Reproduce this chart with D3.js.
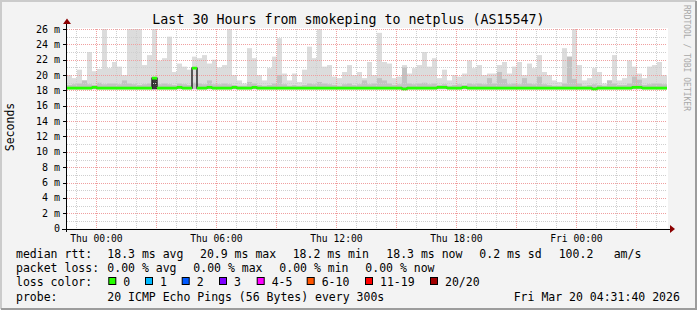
<!DOCTYPE html>
<html><head><meta charset="utf-8">
<script src="https://cdn.jsdelivr.net/npm/d3@7"></script>
<style>
body{margin:0;background:#f3f3f3}
svg{display:block}
text{font-family:"DejaVu Sans Mono",monospace}
</style>
</head><body>
<svg id="c" width="697" height="310"></svg>
<script>
// ---------- data ----------
const title = "Last 30 Hours from smokeping to netplus (AS15547)";
const yTickValues = [0,2,4,6,8,10,12,14,16,18,20,22,24,26];
const yTickLabels = ["0","2 m","4 m","6 m","8 m","10 m","12 m","14 m","16 m","18 m","20 m","22 m","24 m","26 m"];
const endTimeUTC = [2026,2,20,4,31,40];   // Fri Mar 20 04:31:40 2026
const spanHours = 30;
// smoke upper extent (ms), one value per 15-minute bin (120 bins)
const smokeMax = [
 20.0,19.6,20.7,19.3,23.0,20.5,20.8,26.0,20.9,21.7,21.1,20.0,26.0,26.0,26.0,21.3,22.6,26.0,21.9,22.2,25.0,20.4,21.5,21.1,20.7,22.4,22.2,22.6,21.5,22.0,
 21.0,21.3,26.0,20.0,19.3,18.9,23.5,22.2,20.0,19.3,20.9,22.4,24.8,20.2,19.3,20.2,19.1,20.7,23.7,22.2,26.0,21.1,21.3,19.8,19.6,20.4,21.3,20.0,20.4,19.6,
 21.7,20.0,25.5,21.7,21.5,19.6,19.8,21.3,20.2,20.9,21.3,23.0,21.1,22.2,19.6,20.7,19.3,20.0,19.8,20.2,21.9,20.9,21.3,20.0,20.2,20.2,21.3,21.7,20.2,21.1,
 21.7,20.0,21.5,20.9,22.6,20.4,20.0,19.3,19.1,23.5,22.4,26.0,21.3,19.3,19.6,20.9,20.4,18.9,19.3,22.6,19.3,19.6,21.9,21.1,20.2,19.6,21.1,21.3,21.7,20.0
];
// darker inner smoke band upper extent (ms)
const smokeMid = [
 18.7,18.8,18.9,19.3,18.8,18.7,19.0,18.8,18.9,18.9,18.8,19.3,18.9,18.8,18.7,18.8,18.9,19.5,18.8,18.9,18.8,18.7,18.9,18.8,18.7,19.0,18.9,18.8,19.3,18.8,
 18.8,18.9,18.8,18.7,18.6,18.6,19.1,18.9,18.7,18.6,18.7,18.9,20.0,18.8,18.6,18.7,18.6,18.7,18.9,18.8,19.1,18.9,18.8,18.7,18.6,18.8,18.9,18.7,18.8,19.3,
 18.8,18.9,19.6,19.3,18.9,18.7,18.8,21.0,18.9,18.8,18.9,19.0,18.8,18.9,18.7,18.8,18.6,18.7,18.8,18.7,18.9,18.8,18.9,18.8,19.6,18.9,20.4,19.5,18.8,18.9,
 18.8,19.6,18.9,18.8,19.8,18.8,18.7,18.6,18.6,18.9,22.4,19.5,18.9,18.6,18.7,18.8,18.7,18.6,19.3,18.9,18.7,18.7,18.9,19.8,19.4,18.7,18.8,18.9,18.9,18.8
];
// densest smoke core (ms), 0 where absent
const smokeCore = [
 0,0,0,0,0,0,0,0,0,0,0,0,0,0,0,0,0,19.5,0,0,0,0,0,0,0,0,0,0,0,0,
 0,0,0,0,0,0,0,0,0,0,0,0,0,0,0,0,0,0,0,0,0,0,0,0,0,0,0,0,0,0,
 0,0,0,0,0,0,0,0,0,0,0,0,0,0,0,0,0,0,0,0,0,0,0,0,0,0,0,0,0,0,
 0,0,0,0,0,0,0,0,0,0,0,0,0,0,0,0,0,0,0,0,0,0,0,0,0,0,0,0,0,0
];
// median rtt (ms)
const medianRtt = [
 18.3,18.3,18.3,18.3,18.3,18.4,18.3,18.3,18.3,18.3,18.3,18.3,18.3,18.3,18.3,18.3,18.3,19.6,18.3,18.3,18.3,18.3,18.4,18.3,18.3,20.9,18.3,18.3,18.4,18.3,
 18.3,18.3,18.3,18.4,18.3,18.3,18.3,18.4,18.3,18.3,18.3,18.3,18.3,18.3,18.3,18.3,18.3,18.3,18.3,18.3,18.3,18.3,18.3,18.3,18.3,18.3,18.3,18.3,18.3,18.3,
 18.3,18.3,18.3,18.3,18.3,18.3,18.3,18.2,18.3,18.3,18.3,18.3,18.3,18.3,18.4,18.4,18.3,18.3,18.3,18.4,18.3,18.3,18.3,18.3,18.3,18.3,18.3,18.3,18.3,18.3,
 18.3,18.3,18.3,18.3,18.3,18.3,18.3,18.3,18.3,18.3,18.3,18.3,18.3,18.3,18.3,18.2,18.3,18.3,18.3,18.3,18.3,18.3,18.3,18.4,18.4,18.3,18.3,18.3,18.3,18.3
];
const lossLabels = ["0","1","2","3","4-5","6-10","11-19","20/20"];
const lossColors = ["#26ff00","#00b8ff","#0059ff","#7e00ff","#ff00ff","#ff5500","#ff0000","#a10000"];
const rttRow = [["median rtt:",16],["18.3 ms avg",107.3],["20.9 ms max",200],["18.2 ms min",292.7],["18.3 ms now",386.3],["0.2 ms sd",479.3],["100.2",558.7],["am/s",613.7]];
const lossRow = [["packet loss:",16],["0.00 % avg",107.3],["0.00 % max",193.3],["0.00 % min",279.3],["0.00 % now",365.3]];
const probeText = "20 ICMP Echo Pings (56 Bytes) every 300s";
const stampText = "Fri Mar 20 04:31:40 2026";

// ---------- chart ----------
const svg = d3.select("#c");
const W = 697, H = 310;
const X0 = 67, X1 = 667, Ytop = 29, Ybot = 228.6;

const end = new Date(Date.UTC(...endTimeUTC));
const start = new Date(end.getTime() - spanHours*3600e3);
const binMs = spanHours*3600e3 / smokeMax.length;
const binStart = i => new Date(start.getTime() + i*binMs);

const x = d3.scaleUtc().domain([start, end]).range([X0, X1]);
const y = d3.scaleLinear().domain([0, 26]).range([Ybot, Ytop]);

// background + frame
svg.append("rect").attr("width",W).attr("height",H).attr("fill","#f3f3f3");
svg.append("path").attr("d",`M1,${H-1}V1H${W-1}`).attr("stroke","#cbcbcb").attr("stroke-width",2).attr("fill","none");
svg.append("path").attr("d",`M1,${H-1}H${W-1}V1`).attr("stroke","#9c9c9c").attr("stroke-width",2).attr("fill","none");

// canvas
svg.append("rect").attr("x",X0).attr("y",Ytop-1).attr("width",X1-X0+1).attr("height",Ybot-Ytop+1).attr("fill","#ffffff");

const bins = d3.range(smokeMax.length);
const base = 18.15;
function smokeLayer(vals, color) {
  svg.append("g").selectAll("rect").data(bins.filter(i => vals[i] > 0)).join("rect")
    .attr("x", i => x(binStart(i)))
    .attr("width", i => x(binStart(i+1)) - x(binStart(i)))
    .attr("y", i => y(Math.min(26, vals[i])))
    .attr("height", i => y(base) - y(Math.min(26, vals[i])))
    .attr("fill", color);
}
smokeLayer(smokeMax, "#dcdcdc");
smokeLayer(smokeMid, "#c2c2c2");
smokeLayer(smokeCore, "#3a3a3a");

// grid
const grid = svg.append("g").attr("shape-rendering","crispEdges");
const minorH = d3.range(1, 27, 1).filter(v => v % 2 === 1);
grid.selectAll(".hm").data(minorH).join("line")
  .attr("x1",X0).attr("x2",X1).attr("y1",d=>Math.round(y(d))+0.5).attr("y2",d=>Math.round(y(d))+0.5)
  .attr("stroke","#cfcfcf").attr("stroke-dasharray","1,1");
grid.selectAll(".hM").data(yTickValues.filter(v=>v>0)).join("line")
  .attr("x1",X0).attr("x2",X1).attr("y1",d=>Math.round(y(d))+0.5).attr("y2",d=>Math.round(y(d))+0.5)
  .attr("stroke","#f0a0a0").attr("stroke-dasharray","1,1");
const hours = d3.utcHour.range(start, end);
grid.selectAll(".vm").data(hours.filter(d => d.getUTCHours() % 3 !== 0)).join("line")
  .attr("x1",d=>Math.round(x(d))+0.5).attr("x2",d=>Math.round(x(d))+0.5).attr("y1",Ytop).attr("y2",Ybot)
  .attr("stroke","#cfcfcf").attr("stroke-dasharray","1,1");
grid.selectAll(".vM").data(hours.filter(d => d.getUTCHours() % 3 === 0)).join("line")
  .attr("x1",d=>Math.round(x(d))+0.5).attr("x2",d=>Math.round(x(d))+0.5).attr("y1",Ytop).attr("y2",Ybot)
  .attr("stroke","#f0a0a0").attr("stroke-dasharray","1,1");

// median: dark step line, then loss-colored horizontal segments
const stepData = bins.map(i => [binStart(i), medianRtt[i]]).concat([[binStart(bins.length), medianRtt[bins.length-1]]]);
svg.append("path")
  .attr("d", d3.line().x(d=>x(d[0])).y(d=>y(d[1])).curve(d3.curveStepAfter)(stepData))
  .attr("fill","none").attr("stroke","#202020").attr("stroke-width",1.4);
svg.append("g").selectAll("line").data(bins).join("line")
  .attr("x1", i => x(binStart(i))).attr("x2", i => x(binStart(i+1)))
  .attr("y1", i => y(medianRtt[i])).attr("y2", i => y(medianRtt[i]))
  .attr("stroke", lossColors[0]).attr("stroke-width", 2.8);

// axes
const axisG = svg.append("g").attr("shape-rendering","crispEdges");
axisG.append("line").attr("x1",62).attr("x2",670).attr("y1",Math.round(Ybot)+0.5).attr("y2",Math.round(Ybot)+0.5).attr("stroke","#000");
axisG.append("line").attr("x1",66.5).attr("x2",66.5).attr("y1",232).attr("y2",24).attr("stroke","#000");
axisG.selectAll(".yt").data(yTickValues).join("line")
  .attr("x1",63).attr("x2",66).attr("y1",d=>Math.round(y(d))+0.5).attr("y2",d=>Math.round(y(d))+0.5).attr("stroke","#000");
// arrows
svg.append("path").attr("d",`M670,${Ybot-3.5}L675,${Ybot+0.5}L670,${Ybot+4.5}Z`).attr("fill","#8b0000");
svg.append("path").attr("d",`M63,24L67,18.5L71,24Z`).attr("fill","#8b0000");

// y labels
svg.append("g").selectAll("text").data(yTickValues).join("text")
  .attr("x",60).attr("y",d=>y(d)).attr("dy","0.36em").attr("text-anchor","end")
  .attr("font-size",10).attr("fill","#000").text((d,i)=>yTickLabels[i]);
// x labels
const fmt = d3.utcFormat("%a %H:%M");
svg.append("g").selectAll("text").data(hours.filter(d => d.getUTCHours() % 6 === 0)).join("text")
  .attr("x",d=>x(d)).attr("y",242).attr("text-anchor","middle")
  .attr("font-size",9.7).attr("fill","#000").text(d=>fmt(d));

// title
svg.append("text").attr("x",348.5).attr("y",24).attr("text-anchor","middle")
  .attr("font-size",13.3).attr("fill","#000").text(title);
// y title
svg.append("text").attr("transform","translate(14,127) rotate(-90)").attr("text-anchor","middle")
  .attr("font-size",11.5).attr("fill","#000").text("Seconds");
// watermark
svg.append("text").attr("transform","translate(684,5) rotate(90)").attr("text-anchor","start")
  .attr("font-size",8).attr("fill","#a8a8a8").text("RRDTOOL / TOBI OETIKER");

// legend
const lg = svg.append("g").attr("font-size",11.5).attr("fill","#000");
const rowY = [258, 272.2, 286.4, 300.6];
lg.selectAll(".r1").data(rttRow).join("text").attr("x",d=>d[1]).attr("y",rowY[0]).text(d=>d[0]);
lg.selectAll(".r2").data(lossRow).join("text").attr("x",d=>d[1]).attr("y",rowY[1]).text(d=>d[0]);
lg.append("text").attr("x",16).attr("y",rowY[2]).text("loss color:");
const sqX = [108.3,145,181.7,219,256.7,306.7,365,430];
const lcG = svg.append("g");
lcG.selectAll("rect").data(lossLabels).join("rect")
  .attr("x",(d,i)=>sqX[i]+0.5).attr("y",277.5).attr("width",7).attr("height",7)
  .attr("fill",(d,i)=>lossColors[i]).attr("stroke","#000").attr("stroke-width",1);
lg.selectAll(".lc").data(lossLabels).join("text")
  .attr("x",(d,i)=>sqX[i]+15).attr("y",rowY[2]).text(d=>d);
lg.append("text").attr("x",16).attr("y",rowY[3]).text("probe:");
lg.append("text").attr("x",107.3).attr("y",rowY[3]).text(probeText);
lg.append("text").attr("x",513.7).attr("y",rowY[3]).text(stampText);
</script>
</body></html>
